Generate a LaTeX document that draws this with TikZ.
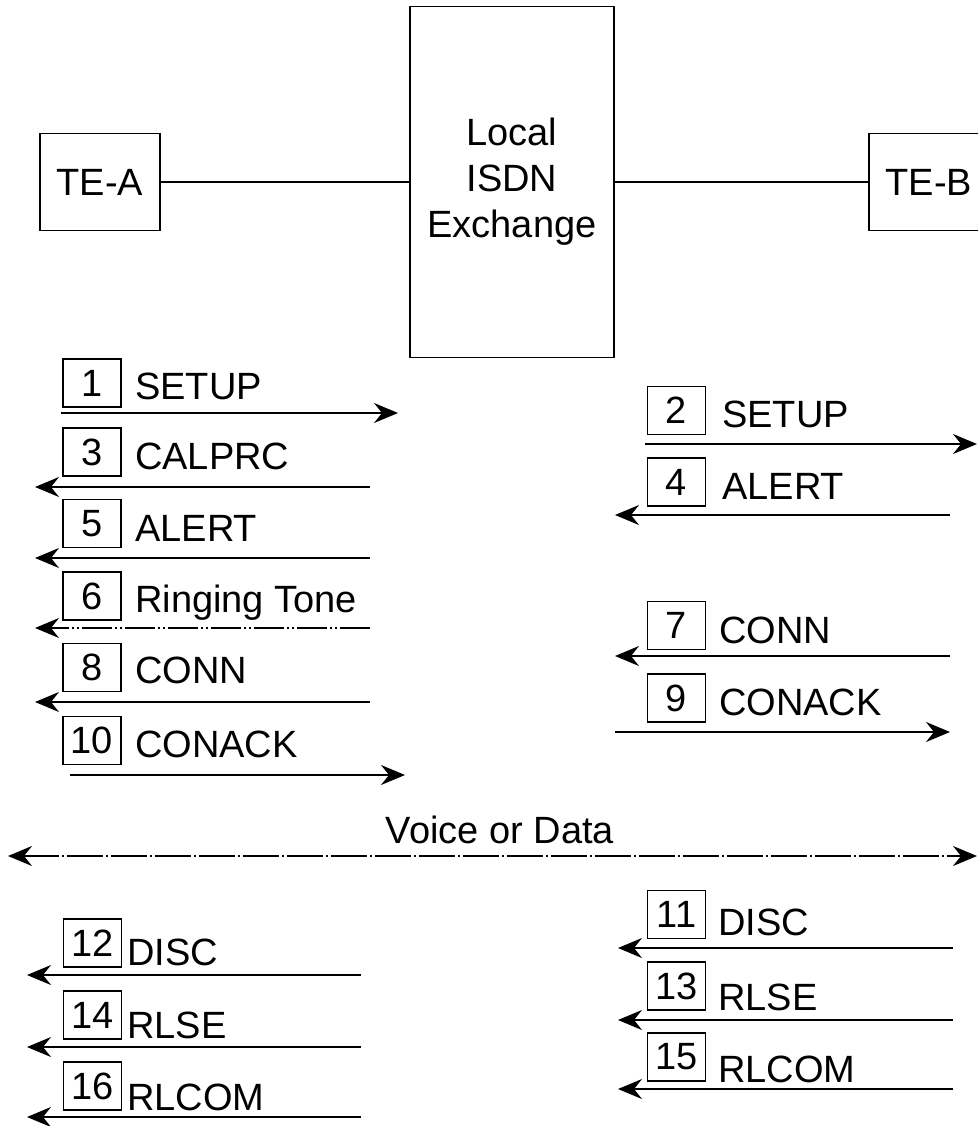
\documentclass[tikz,border=0pt]{standalone}
\usepackage{fontspec}
\setmainfont{Liberation Sans}
\usetikzlibrary{arrows.meta}
\begin{document}
\begin{tikzpicture}[x=1pt,y=-1pt,
  every node/.style={font=\fontsize{38}{46}\selectfont},
  frame/.style={draw, line width=1.6pt, inner sep=0pt},
  numbox/.style={draw, line width=1.4pt, minimum width=58pt, minimum height=48pt, inner sep=0pt},
  msglabel/.style={anchor=base west, inner sep=0pt},
  link/.style={line width=1.6pt},
  msgarrow/.style={line width=1.6pt, -{Stealth[length=24pt,width=20pt,inset=8pt]}},
  ringarrow/.style={msgarrow, dash pattern=on 30pt off 3pt on 2pt off 3pt on 2pt off 3pt},
  voicearrow/.style={line width=2pt, {Stealth[length=24pt,width=20pt,inset=8pt]}-{Stealth[length=24pt,width=20pt,inset=8pt]}, dash pattern=on 36pt off 3pt on 2pt off 3pt}
]
\useasboundingbox (0,0) rectangle (978,1126);
\clip (0,0) rectangle (978,1126);

% top entities
\node[frame, minimum width=120pt, minimum height=97pt] (tea) at (100,182) {TE-A};
\node[frame, minimum width=204pt, minimum height=351pt, align=center] (exch) at (512,182) {Local\\ISDN\\Exchange};
\node[frame, minimum width=120pt, minimum height=97pt] (teb) at (929,182) {TE-B};
\draw[link] (tea) -- (exch);
\draw[link] (exch) -- (teb);

% left column (top)
\node[numbox] (b1) at (92,383) {1};
\node[msglabel] (m1) at (135,399) {SETUP};
\coordinate (s1) at (61,413); \coordinate (e1) at (398,413);
\draw[msgarrow] (s1) -- (e1);

\node[numbox] (b3) at (92,452) {3};
\node[msglabel] (m3) at (135,469) {CALPRC};
\coordinate (s3) at (370,487); \coordinate (e3) at (35,487);
\draw[msgarrow] (s3) -- (e3);

\node[numbox] (b5) at (92,523.5) {5};
\node[msglabel] (m5) at (135,541) {ALERT};
\coordinate (s5) at (370,558); \coordinate (e5) at (35,558);
\draw[msgarrow] (s5) -- (e5);

\node[numbox] (b6) at (92,596) {6};
\node[msglabel] (m6) at (135,612) {Ringing Tone};
\coordinate (s6) at (370,628); \coordinate (e6) at (35,628);
\draw[ringarrow] (s6) -- (e6);

\node[numbox] (b8) at (92,667.5) {8};
\node[msglabel] (m8) at (135,683) {CONN};
\coordinate (s8) at (370,702); \coordinate (e8) at (35,702);
\draw[msgarrow] (s8) -- (e8);

\node[numbox] (b10) at (92,740.5) {10};
\node[msglabel] (m10) at (135,757) {CONACK};
\coordinate (s10) at (70,775); \coordinate (e10) at (405,775);
\draw[msgarrow] (s10) -- (e10);

% right column (top)
\node[numbox] (b2) at (676.5,410.5) {2};
\node[msglabel] (m2) at (722,427) {SETUP};
\coordinate (s2) at (645,444); \coordinate (e2) at (977,444);
\draw[msgarrow] (s2) -- (e2);

\node[numbox] (b4) at (676.5,482) {4};
\node[msglabel] (m4) at (722,499) {ALERT};
\coordinate (s4) at (950,515); \coordinate (e4) at (615,515);
\draw[msgarrow] (s4) -- (e4);

\node[numbox] (b7) at (676.5,625.5) {7};
\node[msglabel] (m7) at (719,643) {CONN};
\coordinate (s7) at (950,656); \coordinate (e7) at (615,656);
\draw[msgarrow] (s7) -- (e7);

\node[numbox] (b9) at (676.5,698) {9};
\node[msglabel] (m9) at (719,715) {CONACK};
\coordinate (s9) at (615,732); \coordinate (e9) at (950,732);
\draw[msgarrow] (s9) -- (e9);

% voice or data
\node[anchor=base, inner sep=0pt] (vd) at (500,843) {Voice or Data};
\coordinate (vl) at (8,856); \coordinate (vr) at (977,856);
\draw[voicearrow] (vl) -- (vr);

% left column (bottom)
\node[numbox] (b12) at (92.5,943) {12};
\node[msglabel] (m12) at (127,965) {DISC};
\coordinate (s12) at (361,975); \coordinate (e12) at (27,975);
\draw[msgarrow] (s12) -- (e12);

\node[numbox] (b14) at (92.5,1015) {14};
\node[msglabel] (m14) at (127,1038) {RLSE};
\coordinate (s14) at (361,1047); \coordinate (e14) at (27,1047);
\draw[msgarrow] (s14) -- (e14);

\node[numbox] (b16) at (92.5,1086) {16};
\node[msglabel] (m16) at (127,1110) {RLCOM};
\coordinate (s16) at (361,1117); \coordinate (e16) at (27,1117);
\draw[msgarrow] (s16) -- (e16);

% right column (bottom)
\node[numbox] (b11) at (676.5,914.5) {11};
\node[msglabel] (m11) at (718,935) {DISC};
\coordinate (s11) at (953,948); \coordinate (e11) at (618,948);
\draw[msgarrow] (s11) -- (e11);

\node[numbox] (b13) at (676.5,986) {13};
\node[msglabel] (m13) at (718,1010) {RLSE};
\coordinate (s13) at (953,1020); \coordinate (e13) at (618,1020);
\draw[msgarrow] (s13) -- (e13);

\node[numbox] (b15) at (676.5,1057) {15};
\node[msglabel] (m15) at (718,1082) {RLCOM};
\coordinate (s15) at (953,1089); \coordinate (e15) at (618,1089);
\draw[msgarrow] (s15) -- (e15);
\end{tikzpicture}
\end{document}
